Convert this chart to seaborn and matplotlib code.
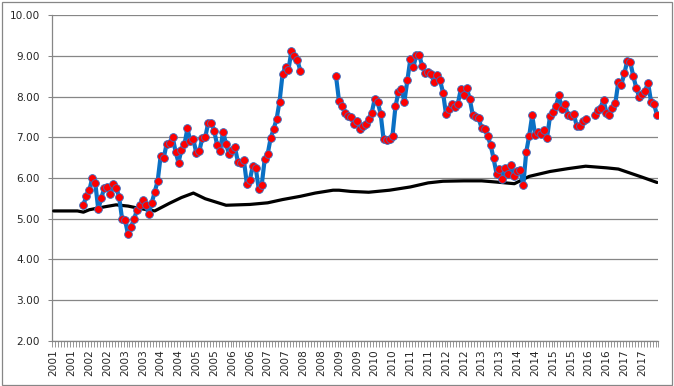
import numpy as np
import pandas as pd
import matplotlib
matplotlib.use("Agg")
import matplotlib.pyplot as plt
import seaborn as sns
from matplotlib.patches import Rectangle

sns.set_theme(style="white")
plt.rcParams["font.family"] = ["DejaVu Sans"]

# ---- data -------------------------------------------------------------
n_months = 204                      # Jan 2001 .. Dec 2017, monthly categories
years = list(range(2001, 2018))
tick_labels = [str(y) for y in years for _ in (0, 1)]   # Jan & Jul of each year

# monthly series (blue line / red markers), three unbroken runs
seg_starts = [10, 95, 182]
seg1 = [5.34, 5.56, 5.70, 6.01, 5.87, 5.23, 5.50, 5.75, 5.77, 5.61,
        5.85, 5.76, 5.54, 5.00, 4.97, 4.62, 4.80, 4.98, 5.21, 5.34,
        5.46, 5.34, 5.11, 5.39, 5.66, 5.93, 6.55, 6.48, 6.84, 6.85,
        7.02, 6.65, 6.38, 6.70, 6.83, 7.22, 6.90, 6.95, 6.61, 6.66,
        6.98, 7.00, 7.36, 7.36, 7.16, 6.81, 6.67, 7.14, 6.83, 6.59,
        6.69, 6.75, 6.39, 6.36, 6.44, 5.85, 5.95, 6.30, 6.24, 5.73,
        5.83, 6.46, 6.59, 6.98, 7.20, 7.45, 7.88, 8.55, 8.74, 8.66,
        9.13, 9.00, 8.89, 8.64]
seg2 = [8.50, 7.90, 7.78, 7.61, 7.53, 7.51, 7.33, 7.40, 7.21, 7.28,
        7.32, 7.45, 7.60, 7.94, 7.87, 7.58, 6.95, 6.93, 6.97, 7.04,
        7.76, 8.11, 8.19, 7.88, 8.40, 8.92, 8.72, 9.02, 9.02, 8.75,
        8.59, 8.61, 8.55, 8.36, 8.52, 8.40, 8.10, 7.57, 7.69, 7.82,
        7.74, 7.83, 8.19, 8.05, 8.21, 7.94, 7.55, 7.49, 7.47, 7.22,
        7.21, 7.03, 6.82, 6.48, 6.11, 6.21, 5.97, 6.25, 6.11, 6.31,
        6.05, 6.17, 6.19, 5.82, 6.64, 7.04, 7.54, 7.06, 7.12, 7.07,
        7.17, 6.99, 7.52, 7.62, 7.78, 8.03, 7.69, 7.82, 7.55, 7.52,
        7.58, 7.27, 7.29, 7.40, 7.46]
seg3 = [7.54, 7.66, 7.73, 7.92, 7.60, 7.54, 7.73, 7.85, 8.37, 8.29,
        8.57, 8.88, 8.85, 8.51, 8.22, 7.99, 8.07, 8.15, 8.34, 7.87,
        7.82, 7.54]
segments = [seg1, seg2, seg3]

# smooth black reference line (read at these month positions)
trend_month = [0, 8, 10, 12, 17, 21, 25, 29, 34, 39, 43, 47, 51, 58, 66,
               72, 77, 83, 88, 94, 96, 100, 106, 113, 120, 126, 131, 138,
               144, 149, 155, 160, 167, 173, 179, 186, 190, 194, 198, 203]
trend_value = [5.19, 5.19, 5.16, 5.22, 5.29, 5.34, 5.31, 5.25, 5.19, 5.38,
               5.52, 5.63, 5.49, 5.33, 5.35, 5.39, 5.47, 5.55, 5.63, 5.70,
               5.70, 5.67, 5.65, 5.70, 5.78, 5.88, 5.92, 5.93, 5.93, 5.90,
               5.86, 6.04, 6.16, 6.23, 6.29, 6.25, 6.22, 6.12, 6.02, 5.89]

# ---- tables -----------------------------------------------------------
rows = []
for s, (start, vals) in enumerate(zip(seg_starts, segments)):
    for k, v in enumerate(vals):
        rows.append((start + k, v, s))
df = pd.DataFrame(rows, columns=["month", "value", "seg"])
trend = pd.DataFrame({"month": trend_month, "value": trend_value})

# ---- figure -----------------------------------------------------------
W, H = 674, 386
fig = plt.figure(figsize=(W / 100, H / 100), dpi=100)
left, right, top, bottom = 52.2, 658.5, 15.3, 340.7
ax = fig.add_axes([left / W, 1 - bottom / H, (right - left) / W, (bottom - top) / H])

grey = "#868686"

sns.lineplot(data=trend, x="month", y="value", ax=ax, color="black",
             linewidth=2.3, zorder=3)
sns.lineplot(data=df, x="month", y="value", units="seg", estimator=None,
             ax=ax, color="#0A70C4", linewidth=3.0, marker="o",
             markersize=5.6, markerfacecolor="#FF0000",
             markeredgecolor="#3A6FC0", markeredgewidth=0.6, zorder=4)

ax.set_xlim(-0.5, n_months - 0.5)
ax.set_ylim(2, 10)
ax.set_xlabel("")
ax.set_ylabel("")

# y axis
ax.set_yticks(np.arange(2, 11, 1))
ax.set_yticklabels([f"{v:.2f}" for v in np.arange(2, 11, 1)])
ax.yaxis.grid(True, color=grey, linewidth=0.9)
ax.set_axisbelow(True)
ax.tick_params(axis="y", which="major", length=3, width=0.75, color=grey,
               pad=6, labelsize=7.6, left=True)

# x axis: labels every 6 months, tick marks between every category
ax.set_xticks(np.arange(0, n_months, 6))
ax.set_xticklabels(tick_labels, rotation=90)
ax.set_xticks(np.arange(-0.5, n_months, 1), minor=True)
ax.tick_params(axis="x", which="major", length=0, pad=6, labelsize=7.6,
               bottom=True)
ax.tick_params(axis="x", which="minor", length=4, width=0.6, color=grey,
               bottom=True)

for side in ("top", "right"):
    ax.spines[side].set_visible(False)
for side in ("left", "bottom"):
    ax.spines[side].set_color(grey)
    ax.spines[side].set_linewidth(0.9)

# chart-area border
fig.patches.append(Rectangle((1.5 / W, 1.5 / H), (670.5) / W, (383.0) / H,
                             transform=fig.transFigure, fill=False,
                             edgecolor=grey, linewidth=0.9))

fig.savefig("out.png", dpi=100)
